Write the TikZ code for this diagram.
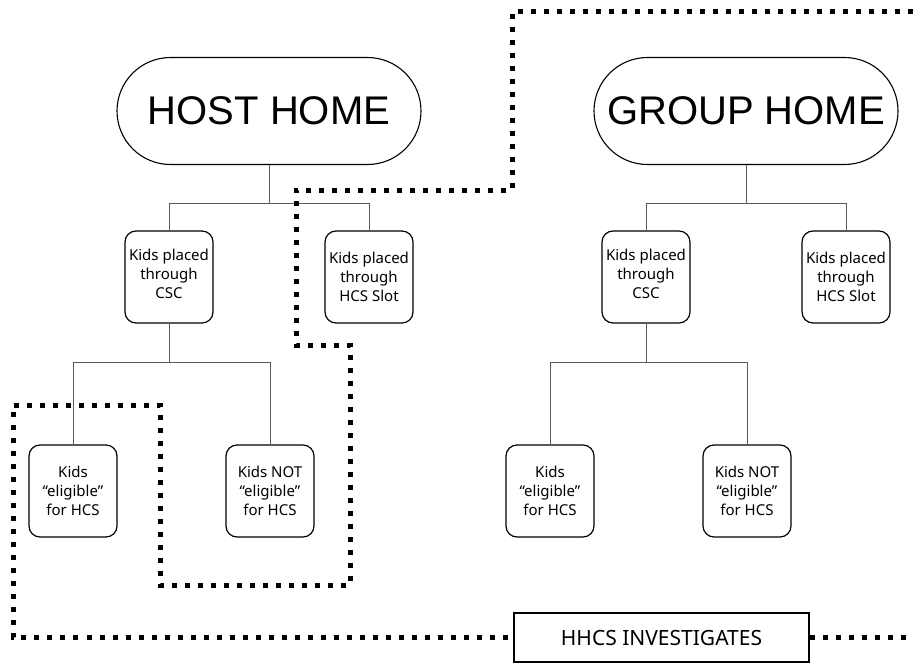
\documentclass[tikz,border=0pt]{standalone}
\usepackage{fontspec}
\setmainfont{Noto Sans}
\newfontfamily\titlefont{Liberation Sans}
\usetikzlibrary{shapes.misc}
\begin{document}
\begin{tikzpicture}[x=1pt,y=-1pt,
 home/.style={draw, rounded rectangle, line width=1.1pt, minimum width=304pt, minimum height=107pt, inner sep=0pt, font=\titlefont\fontsize{40}{44}\selectfont},
 kid/.style={draw, rounded corners=11pt, line width=1.2pt, minimum width=88pt, minimum height=92pt, inner sep=0pt, align=center, font=\fontsize{15}{19}\selectfont},
 conn/.style={draw=black!65, line width=0.8pt},
 dots/.style={line width=5pt, dash pattern=on 5pt off 8pt},
]
\useasboundingbox (0,0) rectangle (917,663);
\fill[white] (0,0) rectangle (917,663);

% homes
\node[home] (hh) at (269,111) {HOST HOME};
\node[home] (gh) at (746,111) {GROUP HOME};

% host home boxes
\node[kid] (hcsc)  at (169,277) {Kids placed\\through\\CSC\\[-13pt]};
\node[kid] (hslot) at (369,277) {Kids placed\\through\\HCS Slot};
\node[kid] (hel)   at (73,491)  {Kids\\“eligible”\\for HCS};
\node[kid] (hnot)  at (270,491) {Kids NOT\\“eligible”\\for HCS};

% group home boxes
\node[kid] (gcsc)  at (646,277) {Kids placed\\through\\CSC\\[-13pt]};
\node[kid] (gslot) at (846,277) {Kids placed\\through\\HCS Slot};
\node[kid] (gel)   at (550,491) {Kids\\“eligible”\\for HCS};
\node[kid] (gnot)  at (747,491) {Kids NOT\\“eligible”\\for HCS};

% investigates
\node[draw, line width=1.1pt, minimum width=295pt, minimum height=49pt, inner sep=0pt, font=\fontsize{21}{24}\selectfont] (inv) at (661.5,637.5) {HHCS INVESTIGATES};

% connectors
\draw[conn] (hh.south) -- ++(0,38) coordinate (hj);
\draw[conn] (hcsc.north) |- (hj) -| (hslot.north);
\draw[conn] (hcsc.south) -- ++(0,39) coordinate (hj2);
\draw[conn] (hel.north) |- (hj2) -| (hnot.north);

\draw[conn] (gh.south) -- ++(0,38) coordinate (gj);
\draw[conn] (gcsc.north) |- (gj) -| (gslot.north);
\draw[conn] (gcsc.south) -- ++(0,39) coordinate (gj2);
\draw[conn] (gel.north) |- (gj2) -| (gnot.north);

% dotted boundary
\coordinate (dstart) at (913,12);
\coordinate (dend) at (913,637.5);
\draw[dots] (dstart) -- (512,12) -- (512,190) -- (296,190) -- (296,345) -- (350,345)
  -- (350,585) -- (160,585) -- (160,405) -- (13,405) -- (13,637.5) -- (inv.west);
\draw[dots] (inv.east) -- (dend);
\end{tikzpicture}
\end{document}
